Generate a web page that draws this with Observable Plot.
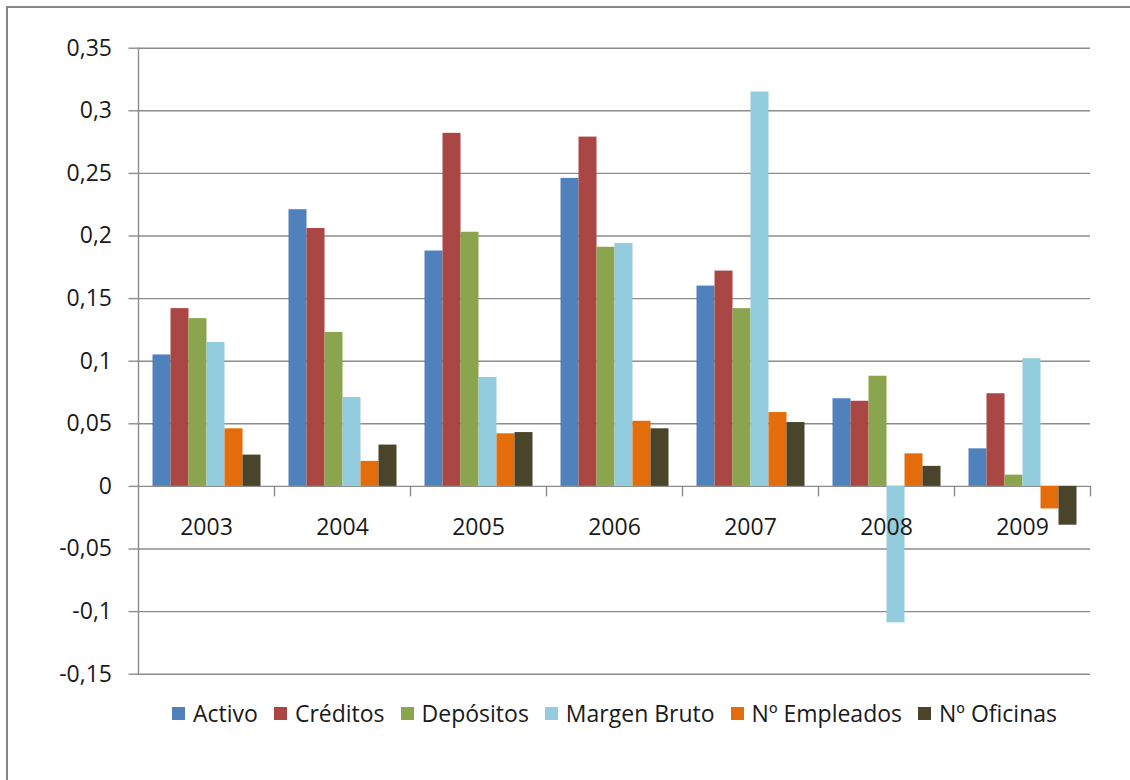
<!DOCTYPE html>
<html>
<head>
<meta charset="utf-8">
<script src="https://cdn.jsdelivr.net/npm/d3@7"></script>
<script src="https://cdn.jsdelivr.net/npm/@observablehq/plot@0.6"></script>
<style>
  body { margin: 0; background: #fff; }
  #wrap { position: relative; width: 1130px; height: 780px; overflow: hidden; font-family: "Open Sans", sans-serif; background: #fff; }
  #border { position: absolute; left: 6px; top: 6px; width: 1300px; height: 900px; border-left: 2px solid #878787; border-top: 2px solid #878787; }
  #chart { position: absolute; left: 0; top: 0; }
  #legend { position: absolute; top: 697px; left: 172px; display: flex; align-items: center; font-size: 23px; color: #1a1a1a; white-space: nowrap; }
  .item { display: flex; align-items: center; margin-right: 16px; }
  .sw { width: 13px; height: 13px; margin-right: 8px; }
</style>
</head>
<body>
<div id="wrap">
  <div id="border"></div>
  <div id="chart"></div>
  <div id="legend"></div>
</div>
<script>
const years = ["2003", "2004", "2005", "2006", "2007", "2008", "2009"];
const series = ["Activo", "Créditos", "Depósitos", "Margen Bruto", "Nº Empleados", "Nº Oficinas"];
const colors = ["#4f81bd", "#aa4644", "#8ba54f", "#93cddd", "#e46c0a", "#4a452a"];

const activo    = [0.105, 0.221, 0.188, 0.246, 0.160, 0.070, 0.030];
const creditos  = [0.142, 0.206, 0.282, 0.279, 0.172, 0.068, 0.074];
const depositos = [0.134, 0.123, 0.203, 0.191, 0.142, 0.088, 0.009];
const margen    = [0.115, 0.071, 0.087, 0.194, 0.315, -0.109, 0.102];
const empleados = [0.046, 0.020, 0.042, 0.052, 0.059, 0.026, -0.018];
const oficinas  = [0.025, 0.033, 0.043, 0.046, 0.051, 0.016, -0.031];

const yTicks = [-0.15, -0.1, -0.05, 0, 0.05, 0.1, 0.15, 0.2, 0.25, 0.3, 0.35];
const yTickLabels = ["-0,15", "-0,1", "-0,05", "0", "0,05", "0,1", "0,15", "0,2", "0,25", "0,3", "0,35"];

const seriesValues = [activo, creditos, depositos, margen, empleados, oficinas];
const rows = [];
years.forEach((yr, i) => {
  series.forEach((s, j) => rows.push({ year: yr, serie: s, value: seriesValues[j][i] }));
});

const gray = "#8c8c8c";
const tickShape = { draw(context, l) { context.moveTo(0, 0); context.lineTo(0, -l); } };

const chart = Plot.plot({
  width: 1130,
  height: 690,
  marginLeft: 136.5,
  marginRight: 39.5,
  marginTop: 47.7,
  marginBottom: 16.3,
  style: { fontFamily: "Open Sans", fontSize: "23px", background: "transparent", color: "#1a1a1a" },
  fx: { domain: years, padding: 0, label: null, axis: null },
  x: { domain: series, paddingInner: 0, paddingOuter: 0.76, axis: null },
  y: { domain: [yTicks[0], yTicks[yTicks.length - 1]], axis: null, label: null },
  color: { domain: series, range: colors },
  marks: [
    Plot.gridY(yTicks, { stroke: gray, strokeOpacity: 1, strokeWidth: 1.4 }),
    Plot.frame({ anchor: "left", facet: "super", stroke: gray, strokeWidth: 1.4 }),
    Plot.axisY(yTicks, {
      label: null,
      tickFormat: (d) => yTickLabels[yTicks.indexOf(d)],
      tickSize: 9.5, tickPadding: 17, fontSize: 23, stroke: gray, strokeWidth: 1.4, fill: "#1a1a1a"
    }),
    Plot.barY(rows, { fx: "year", x: "serie", y: "value", fill: "serie" }),
    Plot.vector(years, {
      fx: (d) => d, y: 0, frameAnchor: "right", rotate: 180, length: 9.5,
      anchor: "start", shape: tickShape, stroke: gray, strokeWidth: 1.4
    }),
    Plot.axisFx({ anchor: "bottom", tickSize: 0, tickPadding: 0, dy: -155.4, fontSize: 23, fill: "#1a1a1a", label: null })
  ]
});
document.getElementById("chart").appendChild(chart);

const legend = document.getElementById("legend");
series.forEach((s, i) => {
  const item = document.createElement("div");
  item.className = "item";
  const sw = document.createElement("div");
  sw.className = "sw";
  sw.style.background = colors[i];
  const label = document.createElement("span");
  label.textContent = s;
  item.appendChild(sw);
  item.appendChild(label);
  legend.appendChild(item);
});
</script>
</body>
</html>
